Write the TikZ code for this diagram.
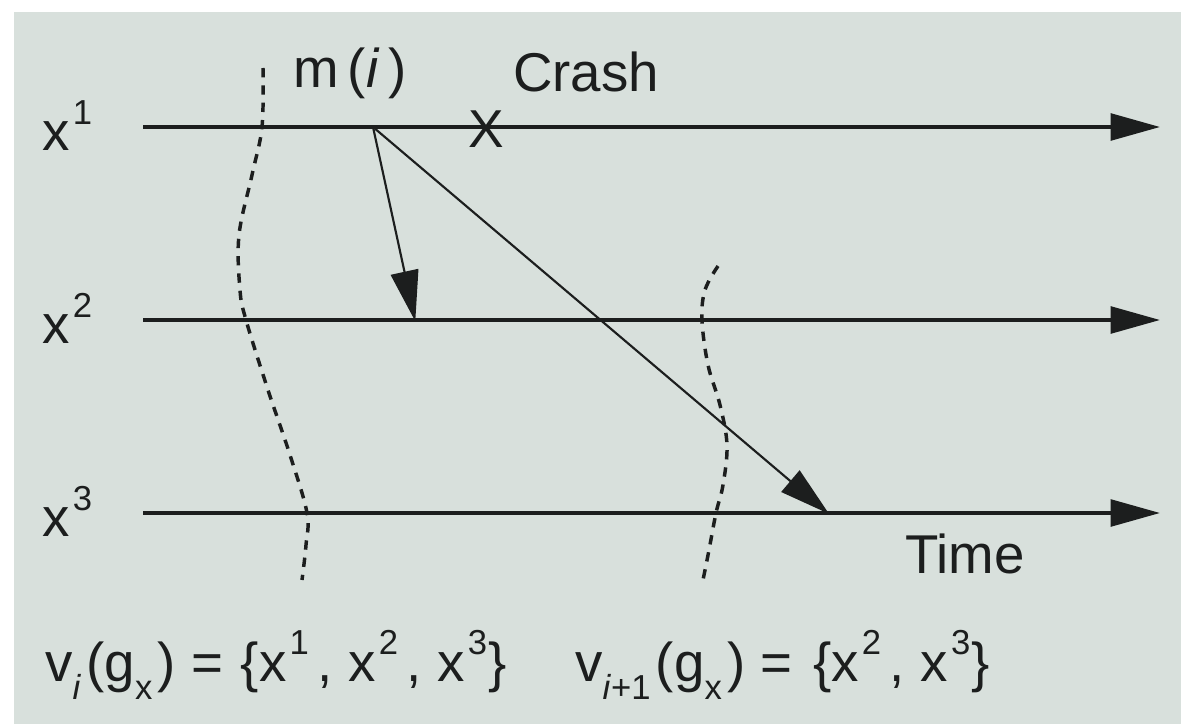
\documentclass[tikz,border=0pt]{standalone}
\usepackage{fontspec}
\setmainfont{Liberation Sans}
\usetikzlibrary{arrows.meta}
\definecolor{panel}{RGB}{216,224,220}
\definecolor{ink}{RGB}{28,30,30}
\newcommand\supx[2][19pt]{\hspace{0.06em}\raisebox{#1}{\fontsize{26}{30}\selectfont #2}}
\newcommand\subx[1]{\raisebox{-14pt}{\fontsize{26}{30}\selectfont #1}\hspace{4pt}}
\newcommand\cm{\hspace{6pt},\hspace{12pt}}
\tikzset{
  lbl/.style={anchor=base west, inner sep=0pt, text=ink, font=\fontsize{41}{48}\selectfont},
  proc/.style={draw=ink, line width=2.7pt, -{Triangle[length=37pt,width=20pt]}},
  msg/.style={draw=ink, line width=1.6pt, -{Triangle[length=38pt,width=21pt]}, shorten >=-1pt},
  cut/.style={draw=ink, line width=2.6pt, dash pattern=on 7pt off 6pt},
}
\begin{document}
\begin{tikzpicture}[x=0.75pt,y=-0.75pt]
\useasboundingbox (0,0) rectangle (1181,724);
\fill[white] (0,0) rectangle (1181,724);
\fill[panel] (14,12) rectangle (1181,724);
% process lines
\coordinate (s1) at (143,127); \coordinate (e1) at (1160,127);
\coordinate (s2) at (143,320); \coordinate (e2) at (1160,320);
\coordinate (s3) at (143,513); \coordinate (e3) at (1160,513);
\draw[proc] (s1) -- (e1);
\draw[proc] (s2) -- (e2);
\draw[proc] (s3) -- (e3);
% labels
\node[lbl] (lx1) at (42,150) {x\supx{1}};
\node[lbl] (lx2) at (42,343) {x\supx{2}};
\node[lbl] (lx3) at (42,536) {x\supx{3}};
\node[lbl] (lm) at (293,88) {m\,(\textit{i}\,)};
\node[lbl] (lcrash) at (513,92) {Crash};
\node[lbl] (ltime) at (905,573) {Time};
\node[inner sep=0pt, text=ink, font=\fontsize{40}{48}\selectfont] (crash) at (486,129) {X};
% messages
\coordinate (m) at (373,127);
\coordinate (r2) at (415,320);
\coordinate (r3) at (828,513);
\draw[msg] (m) -- (r2);
\draw[msg] (m) -- (r3);
% cuts
\draw[cut] plot[smooth, tension=0.6] coordinates {(263,68) (262,127) (252,175) (239,235) (240,290) (246,320) (268,390) (290,455) (307,513) (306,545) (302,580)};
\draw[cut] plot[smooth, tension=0.6] coordinates {(718,266) (705,290) (702,320) (708,365) (720,405) (727,445) (723,485) (716,513) (709,550) (703,580)};
% formulas
\node[lbl] (f1) at (45,681) {v\subx{\textit{i}}(g\subx{x}) = \hspace{2pt}\{x\supx[20pt]{1}\cm x\supx[20pt]{2}\cm x\supx[20pt]{3}\hspace{1pt}\}};
\node[lbl] (f2) at (575,681) {v\subx{\textit{i}+1}(g\subx{x}) = \hspace{4pt}\{x\supx[20pt]{2}\cm x\supx[20pt]{3}\hspace{1pt}\}};
\end{tikzpicture}
\end{document}
